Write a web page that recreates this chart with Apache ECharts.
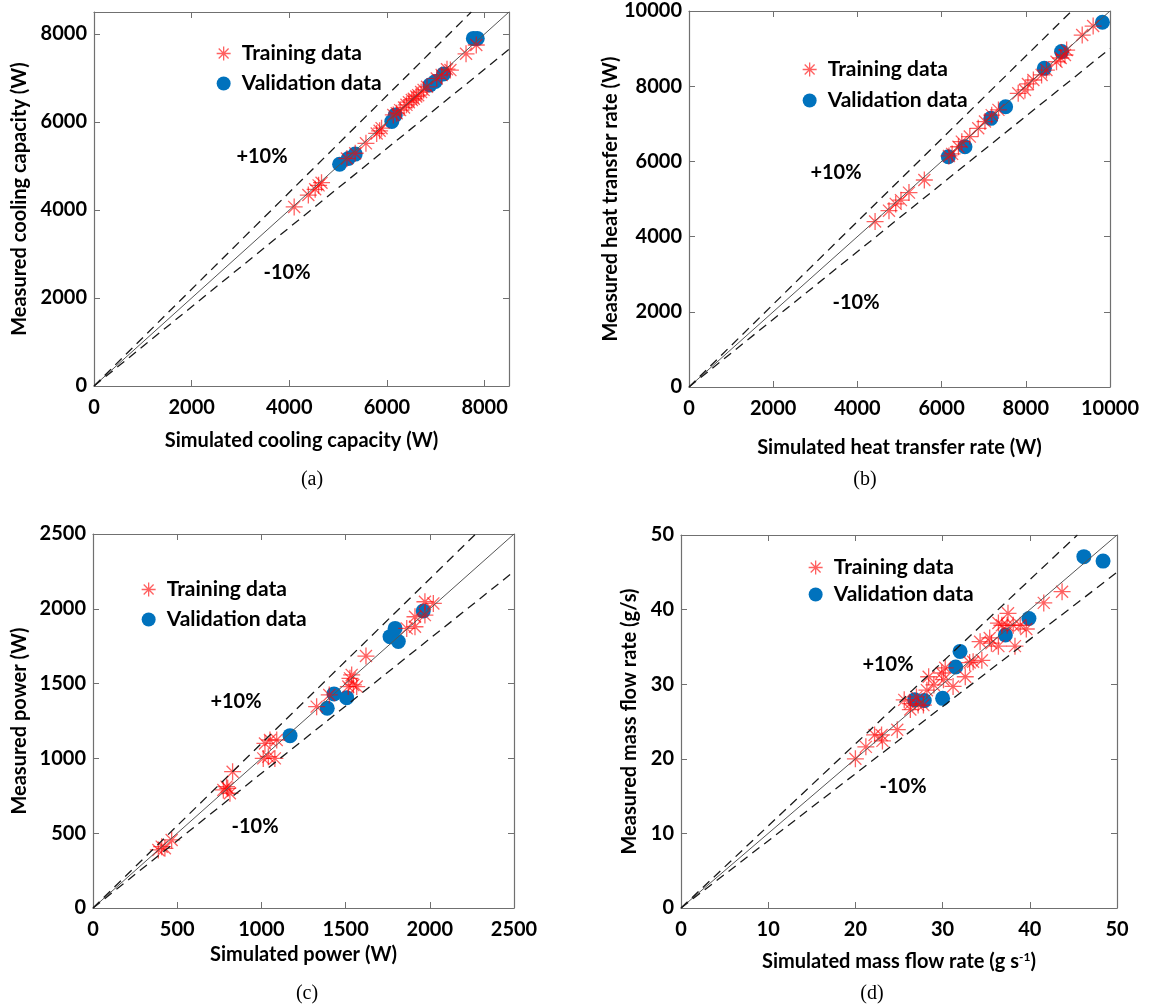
<!DOCTYPE html>
<html>
<head>
<meta charset="utf-8">
<script src="https://cdn.jsdelivr.net/npm/echarts@6/dist/echarts.min.js"></script>
<style>
html,body{margin:0;padding:0;background:#fff;}
#main{width:1152px;height:1007px;}
</style>
</head>
<body>
<div id="main"></div>
<script>
// (a) cooling capacity, W  [simulated, measured]
var aTrain = [[4100,4070],[4390,4340],[4530,4470],[4600,4560],[4660,4620],[5180,5170],[5350,5290],
  [5570,5515],[5790,5740],[5850,5800],[5890,5860],[6130,6160],[6200,6200],[6270,6270],[6350,6330],
  [6400,6390],[6450,6450],[6510,6500],[6550,6530],[6600,6580],[6640,6610],[6700,6680],[6750,6730],
  [6820,6800],[7020,6990],[7120,7070],[7230,7200],[7300,7180],[7620,7550],[7830,7750]];
var aVal = [[5030,5040],[5210,5170],[5350,5270],[6100,6010],[6170,6160],[6880,6840],[6990,6920],
  [7160,7090],[7770,7900],[7850,7900]];

// (b) heat transfer rate, W
var bTrain = [[4420,4400],[4750,4690],[4910,4870],[5035,4970],[5225,5170],[5590,5505],[6175,6145],
  [6250,6200],[6400,6390],[6480,6525],[6670,6660],[6870,6880],[7030,7060],[7190,7230],[7350,7370],
  [7820,7810],[7980,7900],[8050,8060],[8180,8165],[8375,8300],[8490,8430],[8730,8650],[8830,8750],
  [8930,8830],[8970,8960],[9340,9360],[9600,9600]];
var bVal = [[6160,6125],[6555,6390],[7170,7145],[7520,7455],[8440,8475],[8850,8920],[9820,9700]];

// (c) power, W
var cTrain = [[388,388],[408,410],[427,399],[467,455],[774,789],[793,811],[800,800],[813,767],
  [829,911],[1011,1000],[1021,1100],[1041,1011],[1051,1123],[1080,1000],[1091,1123],[1328,1346],
  [1403,1424],[1516,1480],[1526,1535],[1536,1558],[1546,1491],[1566,1480],[1621,1684],[1863,1869],
  [1912,1880],[1912,1947],[1971,1958],[1971,2047],[2021,2036]];
var cVal = [[1170,1152],[1391,1335],[1431,1431],[1506,1406],[1764,1814],[1794,1869],[1813,1781],
  [1961,1985]];

// (d) mass flow rate, g/s
var dTrain = [[20,20],[21.2,21.6],[22.2,23.2],[23,23.2],[23.1,22.4],[24.8,23.9],[25.6,27.9],
  [26.3,26.6],[26.3,27.4],[27,28.3],[27.2,27.2],[27.8,27.2],[28.2,29.2],[28.4,31],[29,29.9],
  [29.9,31.5],[30.1,30.6],[30.3,32.2],[31.2,29.7],[32.6,31],[33.1,32.9],[33.5,33],[34.3,35.7],
  [34.5,33.2],[35.4,36.2],[35.6,35.5],[36.4,35.1],[36.4,38.2],[36.8,37.9],[37.4,37.9],[37.5,39.5],
  [38.1,37.9],[38.3,35.1],[38.9,37.9],[39.6,37.4],[41.6,40.9],[43.7,42.4]];
var dVal = [[26.8,27.9],[27.9,27.8],[30,28.1],[31.5,32.3],[32,34.4],[37.2,36.6],[39.9,38.8],
  [46.2,47.1],[48.4,46.5]];

var STAR = 'path://M0,-10L0,10M-10,0L10,0M-7.07,-7.07L7.07,7.07M-7.07,7.07L7.07,-7.07';
var FONT = 'Lato';
var AXC = '#707070';
var RED = 'rgba(255,0,0,0.78)';
var BLUE = '#0072BD';

var panels = [
  {grid:{left:94,top:12,width:415,height:374}, max:8500, step:2000, train:aTrain, val:aVal,
   xName:'Simulated cooling capacity (W)', yName:'Measured cooling capacity (W)', xGap:45, yGap:64,
   leg:{left:211,top:38,gap:9}, plus:[262,157], minus:[287,273], cap:[312,480,'(a)']},
  {grid:{left:689,top:11,width:421,height:376}, max:10000, step:2000, train:bTrain, val:bVal,
   xName:'Simulated heat transfer rate (W)', yName:'Measured heat transfer rate (W)', xGap:51, yGap:67,
   leg:{left:797,top:54,gap:10}, plus:[836,173], minus:[856,303], cap:[865,480,'(b)']},
  {grid:{left:93,top:534,width:421,height:374}, max:2500, step:500, train:cTrain, val:cVal,
   xName:'Simulated power (W)', yName:'Measured power (W)', xGap:37, yGap:63,
   leg:{left:136,top:574,gap:9}, plus:[236,702], minus:[255,827], cap:[307,994,'(c)']},
  {grid:{left:681,top:535,width:436,height:373}, max:50, step:10, train:dTrain, val:dVal,
   xName:'Simulated mass flow rate (g s{sup|-1})', yName:'Measured mass flow rate (g/s)', xGap:43, yGap:41,
   leg:{left:803,top:552,gap:6}, plus:[888,665], minus:[903,787], cap:[872,994,'(d)']}
];

var grid = [], xAxis = [], yAxis = [], series = [], legend = [], graphic = [];

function mainAxis(i, p, pos, name, gap) {
  return {
    gridIndex: i, type: 'value', min: 0, max: p.max, interval: p.step, position: pos,
    name: name, nameLocation: 'middle', nameGap: gap,
    nameTextStyle: {fontFamily: FONT, fontWeight: 'bold', fontSize: 20, color: '#000',
      rich: {sup: {fontFamily: FONT, fontWeight: 'bold', fontSize: 12, color: '#000', padding: [0,0,10,0]}}},
    axisLine: {show: true, onZero: false, lineStyle: {color: AXC, width: 1.2}},
    axisTick: {show: true, inside: true, length: 6, lineStyle: {color: AXC}},
    axisLabel: {margin: pos === 'bottom' ? 12 : 7, fontFamily: FONT, fontWeight: 'bold', fontSize: 20, color: '#000',
      formatter: function (v) { return v % p.step === 0 ? String(v) : ''; }},
    splitLine: {show: false}
  };
}
function mirrorAxis(i, p, pos) {
  return {
    gridIndex: i, type: 'value', min: 0, max: p.max, interval: p.step, position: pos,
    axisLine: {show: true, onZero: false, lineStyle: {color: AXC, width: 1.2}},
    axisTick: {show: true, inside: true, length: 6, lineStyle: {color: AXC}},
    axisLabel: {show: false}, splitLine: {show: false}
  };
}

panels.forEach(function (p, i) {
  grid.push(p.grid);
  xAxis.push(mainAxis(i, p, 'bottom', p.xName, p.xGap));
  xAxis.push(mirrorAxis(i, p, 'top'));
  yAxis.push(mainAxis(i, p, 'left', p.yName, p.yGap));
  yAxis.push(mirrorAxis(i, p, 'right'));

  var xi = 2 * i, yi = 2 * i;
  // 1:1 line and +-10% bands
  series.push({type: 'line', xAxisIndex: xi, yAxisIndex: yi, symbol: 'none', silent: true,
    data: [[0, 0], [p.max, p.max]], lineStyle: {color: '#555', width: 1}});
  series.push({type: 'line', xAxisIndex: xi, yAxisIndex: yi, symbol: 'none', silent: true,
    data: [[0, 0], [p.max / 1.1, p.max]], lineStyle: {color: '#1a1a1a', width: 1.3, type: [9, 6]}});
  series.push({type: 'line', xAxisIndex: xi, yAxisIndex: yi, symbol: 'none', silent: true,
    data: [[0, 0], [p.max, p.max * 0.9]], lineStyle: {color: '#1a1a1a', width: 1.3, type: [9, 6]}});

  series.push({type: 'scatter', name: 'Validation data', xAxisIndex: xi, yAxisIndex: yi,
    symbol: 'circle', symbolSize: 15, data: p.val, itemStyle: {color: BLUE, opacity: 1}});
  series.push({type: 'scatter', name: 'Training data', xAxisIndex: xi, yAxisIndex: yi,
    symbol: STAR, symbolSize: 17, data: p.train,
    itemStyle: {color: RED, borderColor: RED, borderWidth: 1.3}});

  legend.push({
    left: p.leg.left, top: p.leg.top, orient: 'vertical', itemGap: p.leg.gap,
    itemWidth: 14, itemHeight: 14, selectedMode: false,
    textStyle: {fontFamily: FONT, fontSize: 21, fontWeight: 'bold', color: '#000', padding: [0, 0, 0, 6]},
    data: [
      {name: 'Training data', icon: STAR, itemStyle: {color: RED, borderColor: RED, borderWidth: 1.3}},
      {name: 'Validation data', icon: 'circle', itemStyle: {color: BLUE}}
    ]
  });

  graphic.push({type: 'text', x: p.plus[0], y: p.plus[1],
    style: {text: '+10%', font: 'bold 20px ' + FONT, fill: '#000', align: 'center', verticalAlign: 'middle',
      textAlign: 'center', textVerticalAlign: 'middle'}});
  graphic.push({type: 'text', x: p.minus[0], y: p.minus[1],
    style: {text: '-10%', font: 'bold 20px ' + FONT, fill: '#000', align: 'center', verticalAlign: 'middle',
      textAlign: 'center', textVerticalAlign: 'middle'}});
  graphic.push({type: 'text', x: p.cap[0], y: p.cap[1],
    style: {text: p.cap[2], font: '20px "Liberation Serif"', fill: '#000', align: 'center', verticalAlign: 'middle',
      textAlign: 'center', textVerticalAlign: 'middle'}});
});

var chart = echarts.init(document.getElementById('main'), null, {renderer: 'canvas'});
chart.setOption({
  backgroundColor: '#fff',
  animation: false,
  grid: grid,
  xAxis: xAxis,
  yAxis: yAxis,
  legend: legend,
  graphic: graphic,
  series: series
});
</script>
</body>
</html>
